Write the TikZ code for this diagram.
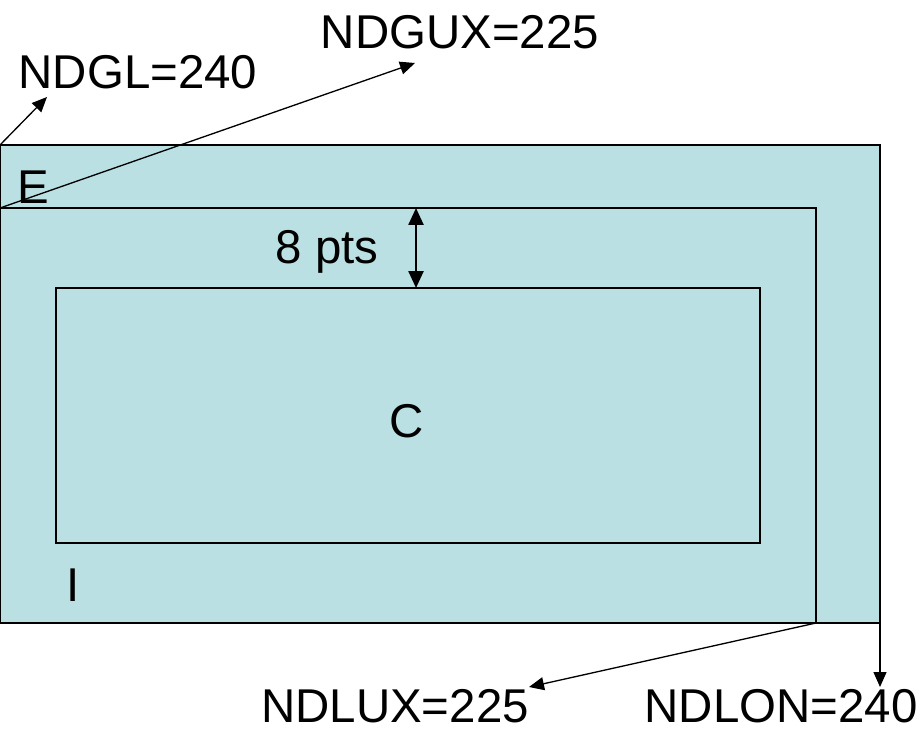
\documentclass[tikz,border=0pt]{standalone}
\usepackage{fontspec}
\setmainfont{Liberation Sans}
\usetikzlibrary{arrows.meta, positioning}
\definecolor{panelfill}{RGB}{187,224,227}

\begin{document}
\begin{tikzpicture}[
    x=0.02cm, y=-0.02cm,
    panel/.style={draw=black, line width=1.1pt, fill=panelfill},
    lbl/.style={font=\fontsize{27}{32}\selectfont, inner sep=0pt},
    pointer/.style={-{Triangle[length=0.3cm, width=0.26cm]}, line width=0.75pt},
    gap/.style={{Triangle[length=0.34cm, width=0.3cm]}-{Triangle[length=0.34cm, width=0.3cm]}, line width=1.4pt},
]
\useasboundingbox (0,0) rectangle (922,733);

% Corners of the three areas
\coordinate (eNW) at (0,145);
\coordinate (eSE) at (880,623);
\coordinate (iNW) at (0,208);
\coordinate (iSE) at (816,623);
\coordinate (cNW) at (56,288);
\coordinate (cSE) at (760,543);

\draw[panel] (eNW) rectangle (eSE);
\draw[panel] (iNW) rectangle (iSE);
\draw[panel] (cNW) rectangle (cSE);

% Area labels
\node[lbl] (eLbl) at (33,187) {E};
\node[lbl] (iLbl) at (73,585) {I};
\node[lbl] (cLbl) at (407,421) {C};

% Margin between I and C
\coordinate (gapTop) at (416,208);
\coordinate (gapBot) at (416,288);
\draw[gap] (gapTop) -- (gapBot);
\node[lbl] (gapLbl) at (327,252) {8 pts};

% Size labels
\node[lbl] (ndgl)  at (138,72)  {NDGL=240};
\node[lbl] (ndgux) at (460,32)  {NDGUX=225};
\node[lbl, anchor=base] (ndlux) at (395,722) {NDLUX=225};
\node[lbl, anchor=base] (ndlon) at (781,722) {NDLON=240};

\coordinate (ndglTip)  at (47,97);
\coordinate (ndguxTip) at (415,63);
\coordinate (ndluxTip) at (529,687);
\coordinate (ndlonTip) at (880,687);

\draw[pointer] (eNW) -- (ndglTip);
\draw[pointer] (iNW) -- (ndguxTip);
\draw[pointer] (iSE) -- (ndluxTip);
\draw[pointer] (eSE) -- (ndlonTip);

\end{tikzpicture}
\end{document}
